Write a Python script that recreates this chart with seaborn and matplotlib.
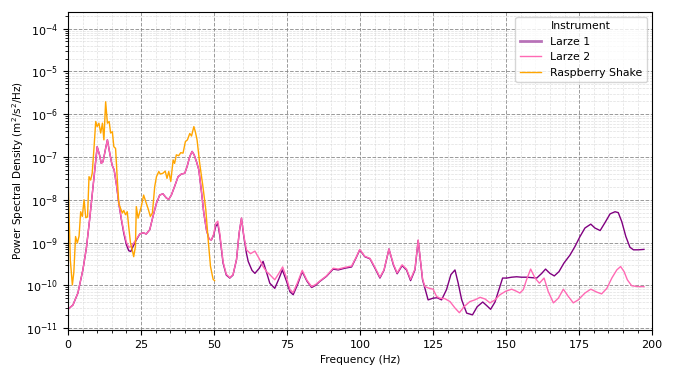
import numpy as np
import pandas as pd
import matplotlib
matplotlib.use("Agg")
import matplotlib.pyplot as plt
from matplotlib.ticker import MultipleLocator, LogLocator, NullFormatter, FixedLocator
import seaborn as sns

# ---------------- data (PSD given as log10 values) ----------------
instruments = ["Larze 1", "Larze 2", "Raspberry Shake"]

larze1_freq = [0, 1.7, 3.4, 5.1, 6.3, 7.4, 8.6, 9.4, 10.0, 10.8, 11.4, 12.0, 12.8, 13.5, 14.3,
               15.1, 15.8, 16.6, 17.4, 18.3, 19.1, 20.0, 20.8, 21.5, 22.3, 23.4, 24.6, 25.7,
               26.8, 28.0, 29.1, 30.3, 31.4, 32.5, 33.7, 34.5, 35.4, 36.5, 37.7, 38.8, 40.0,
               40.8, 41.7, 42.5, 43.2, 44.0, 44.8, 45.7, 46.5, 47.4, 48.3, 49.1, 49.9, 50.6,
               51.3, 52.0, 53.1, 54.2, 55.4, 56.5, 57.7, 58.6, 59.4, 60.2, 61.1, 61.7, 63.0,
               64.0, 65.5, 66.8, 68.0, 69.1, 70.8, 72.2, 73.4, 74.8, 76.0, 77.1, 78.5, 80.2,
               81.8, 83.4, 84.8, 86.2, 88.5, 90.8, 92.5, 94.8, 97.1, 98.7, 99.9, 101.6, 103.4,
               105.1, 106.8, 108.2, 109.9, 111.4, 112.7, 114.4, 115.9, 117.3, 118.8, 119.9,
               121.4, 123.3, 125.0, 126.4, 127.9, 129.6, 131.1, 132.5, 133.6, 134.8, 136.5,
               138.5, 140.1, 142.0, 143.3, 144.7, 146.2, 147.7, 148.8, 150.2, 151.9, 153.6,
               155.3, 157.0, 158.8, 160.5, 162.2, 163.5, 165.0, 166.5, 168.1, 169.8, 171.9,
               173.6, 175.3, 177.0, 179.0, 180.4, 182.2, 183.9, 185.6, 187.3, 188.4, 189.6,
               191.0, 192.4, 193.6, 195.3, 197.2]
larze1_log_psd = [-10.56, -10.46, -10.18, -9.64, -9.13, -8.47, -7.69, -7.15, -6.76, -6.95, -7.15,
                  -7.11, -6.83, -6.60, -6.91, -7.19, -7.30, -7.65, -8.08, -8.47, -8.78, -9.05,
                  -9.19, -9.21, -9.09, -8.94, -8.80, -8.77, -8.80, -8.70, -8.39, -8.08, -7.89,
                  -7.86, -7.96, -7.99, -7.89, -7.69, -7.46, -7.40, -7.38, -7.22, -6.99, -6.87,
                  -6.95, -7.11, -7.30, -7.81, -8.31, -8.70, -8.92, -8.94, -8.82, -8.62, -8.56,
                  -8.85, -9.48, -9.76, -9.83, -9.76, -9.40, -8.78, -8.43, -8.86, -9.25, -9.44,
                  -9.65, -9.72, -9.60, -9.44, -9.70, -9.95, -10.07, -9.85, -9.64, -9.90, -10.15,
                  -10.22, -10.00, -9.68, -9.90, -10.05, -10.00, -9.91, -9.79, -9.62, -9.64,
                  -9.60, -9.57, -9.35, -9.17, -9.33, -9.38, -9.60, -9.83, -9.65, -9.15, -9.52,
                  -9.73, -9.54, -9.64, -9.89, -9.64, -8.95, -9.87, -10.34, -10.30, -10.29,
                  -10.34, -10.10, -9.75, -9.64, -9.95, -10.34, -10.65, -10.69, -10.50, -10.39,
                  -10.47, -10.56, -10.39, -10.07, -9.83, -9.83, -9.81, -9.80, -9.81, -9.81,
                  -9.82, -9.83, -9.72, -9.62, -9.72, -9.78, -9.68, -9.48, -9.29, -9.09, -8.86,
                  -8.66, -8.57, -8.66, -8.72, -8.53, -8.33, -8.28, -8.30, -8.51, -8.86, -9.11,
                  -9.17, -9.17, -9.16]

larze2_freq = [0, 1.7, 3.4, 5.1, 6.3, 7.4, 8.6, 9.4, 10.0, 10.8, 11.4, 12.0, 12.8, 13.5, 14.3,
               15.1, 15.8, 16.6, 17.4, 18.3, 19.1, 20.0, 20.8, 21.5, 22.3, 23.4, 24.6, 25.7,
               26.8, 28.0, 29.1, 30.3, 31.4, 32.5, 33.7, 34.5, 35.4, 36.5, 37.7, 38.8, 40.0,
               40.8, 41.7, 42.5, 43.2, 44.0, 44.8, 45.7, 46.5, 47.4, 48.3, 49.1, 49.9, 50.6,
               51.3, 52.0, 53.1, 54.2, 55.4, 56.5, 57.7, 58.6, 59.4, 60.2, 61.1, 62.5, 64.0,
               65.5, 66.8, 68.0, 69.1, 70.8, 72.2, 73.5, 74.8, 76.0, 77.1, 78.5, 80.2, 81.8,
               83.4, 84.8, 86.2, 88.5, 90.8, 92.5, 94.8, 97.1, 98.7, 99.9, 101.6, 103.4, 105.1,
               106.8, 108.2, 109.9, 111.4, 112.7, 114.4, 115.9, 117.3, 118.8, 119.9, 121.4,
               122.2, 123.7, 125.0, 126.2, 127.3, 129.0, 130.8, 132.5, 134.0, 135.6, 137.6,
               139.3, 141.1, 142.8, 144.5, 146.2, 147.9, 149.8, 151.9, 153.6, 154.7, 155.9,
               157.0, 158.4, 159.9, 161.4, 163.0, 164.4, 166.2, 167.9, 169.6, 171.3, 173.0,
               174.7, 177.0, 179.0, 181.1, 182.7, 184.5, 186.2, 187.9, 189.2, 190.4, 191.5,
               193.0, 195.3, 197.2]
larze2_log_psd = [-10.56, -10.46, -10.18, -9.64, -9.13, -8.47, -7.69, -7.15, -6.76, -6.95, -7.15,
                  -7.11, -6.83, -6.60, -6.91, -7.19, -7.30, -7.65, -8.08, -8.45, -8.74, -8.99,
                  -9.11, -9.10, -9.03, -8.92, -8.80, -8.77, -8.80, -8.70, -8.39, -8.08, -7.89,
                  -7.86, -7.96, -7.99, -7.89, -7.69, -7.46, -7.40, -7.38, -7.22, -6.99, -6.87,
                  -6.95, -7.11, -7.30, -7.81, -8.31, -8.70, -8.92, -8.94, -8.80, -8.55, -8.50,
                  -8.80, -9.45, -9.74, -9.82, -9.75, -9.40, -8.78, -8.43, -8.84, -9.17, -9.26,
                  -9.20, -9.38, -9.56, -9.68, -9.75, -9.87, -9.72, -9.57, -9.82, -10.10, -10.17,
                  -9.95, -9.65, -9.88, -10.03, -9.98, -9.90, -9.78, -9.60, -9.62, -9.58, -9.55,
                  -9.34, -9.16, -9.32, -9.37, -9.58, -9.81, -9.64, -9.15, -9.50, -9.71, -9.52,
                  -9.62, -9.86, -9.62, -8.94, -9.85, -10.03, -10.07, -10.09, -10.26, -10.30,
                  -10.31, -10.38, -10.53, -10.64, -10.50, -10.38, -10.34, -10.28, -10.32,
                  -10.41, -10.34, -10.22, -10.14, -10.09, -10.14, -10.18, -10.10, -9.87, -9.62,
                  -9.83, -9.95, -9.83, -10.14, -10.41, -10.30, -10.09, -10.26, -10.41, -10.34,
                  -10.18, -10.09, -10.16, -10.20, -10.07, -9.83, -9.64, -9.56, -9.68, -9.87,
                  -10.01, -10.03, -10.03]

rshake_freq = [0.0, 0.8, 1.5, 2.0, 2.6, 3.2, 3.8, 4.35, 4.9, 5.5, 6.1, 6.7, 7.2, 7.75, 8.3, 8.9,
               9.5, 10.0, 10.6, 11.2, 11.8, 12.3, 12.9, 13.5, 14.1, 14.6, 15.2, 15.7, 16.3,
               16.9, 17.4, 18.0, 18.6, 19.1, 19.7, 20.3, 20.8, 21.4, 22.0, 22.5, 23.1, 23.4,
               24.0, 24.6, 25.1, 25.9, 26.8, 27.4, 28.2, 28.9, 29.7, 30.3, 31.1, 31.6, 32.5,
               33.3, 33.9, 34.5, 35.2, 36.0, 36.5, 37.1, 37.9, 38.6, 39.4, 40.2, 40.9, 41.7,
               42.3, 43.1, 43.6, 44.2, 45.1, 46.2, 47.2, 48.0, 48.8, 49.7, 50.2]
rshake_log_psd = [-7.4, -9.4, -9.99, -9.7, -8.86, -9.01, -8.85, -8.28, -8.39, -8.0, -8.42, -8.40,
                  -7.46, -7.54, -7.38, -6.8, -6.17, -6.29, -6.21, -6.44, -6.21, -6.60, -5.71,
                  -6.21, -6.17, -6.44, -6.41, -6.76, -6.80, -7.54, -8.08, -8.20, -8.31, -8.25,
                  -8.35, -8.28, -8.63, -9.01, -9.17, -9.33, -9.09, -8.16, -8.43, -8.28, -8.16,
                  -7.89, -8.08, -8.20, -8.39, -8.31, -7.69, -7.46, -7.34, -7.40, -7.38, -7.33,
                  -7.50, -7.34, -7.57, -7.07, -7.15, -6.95, -6.97, -6.90, -6.91, -6.64, -6.60,
                  -6.45, -6.51, -6.29, -6.41, -6.60, -7.15, -7.69, -8.24, -8.94, -9.56, -9.86,
                  -9.89]

y_tick_values = [1e-11, 1e-10, 1e-9, 1e-8, 1e-7, 1e-6, 1e-5, 1e-4]

palette = {"Larze 1": "purple", "Larze 2": "hotpink", "Raspberry Shake": "orange"}

frames = []
for name, fr, lp in [("Larze 1", larze1_freq, larze1_log_psd),
                     ("Larze 2", larze2_freq, larze2_log_psd),
                     ("Raspberry Shake", rshake_freq, rshake_log_psd)]:
    frames.append(pd.DataFrame({"Frequency (Hz)": fr,
                                "PSD": 10.0 ** np.asarray(lp),
                                "Instrument": name}))
df = pd.concat(frames, ignore_index=True)

# ---------------- plot ----------------
fig = plt.figure(figsize=(6.73, 3.74), dpi=100)
ax = fig.add_axes([0.101, 0.118, 0.868, 0.851])

sns.lineplot(data=df, x="Frequency (Hz)", y="PSD", hue="Instrument",
             hue_order=instruments, palette=palette, estimator=None,
             sort=False, linewidth=1.0, ax=ax)

ax.set_yscale("log")
ax.set_xlim(0, 200)
ax.set_ylim(9.1e-12, 2.5e-4)
ax.xaxis.set_major_locator(MultipleLocator(25))
ax.xaxis.set_minor_locator(MultipleLocator(5))
ax.yaxis.set_major_locator(FixedLocator(y_tick_values))
ax.yaxis.set_minor_locator(LogLocator(base=10, subs=np.arange(2, 10)))
ax.yaxis.set_minor_formatter(NullFormatter())

ax.grid(which="major", linestyle="--", color="gray", linewidth=0.7, alpha=0.8)
ax.grid(which="minor", linestyle="--", color="lightgray", linewidth=0.5, alpha=0.7)
ax.set_axisbelow(True)

ax.set_xlabel("Frequency (Hz)", fontsize=7.7)
ax.set_ylabel("Power Spectral Density (m$^2$/s$^2$/Hz)", fontsize=7.5)
ax.yaxis.set_label_coords(-0.072, 0.5)
ax.tick_params(axis="both", which="major", labelsize=8)

leg = ax.legend(title="Instrument", loc="upper right", fontsize=7.8, title_fontsize=7.8)
for h in leg.get_lines():
    if h.get_label() == "Larze 1":
        h.set_linewidth(2.0)
        h.set_alpha(0.55)

fig.savefig("out.png", dpi=100)
